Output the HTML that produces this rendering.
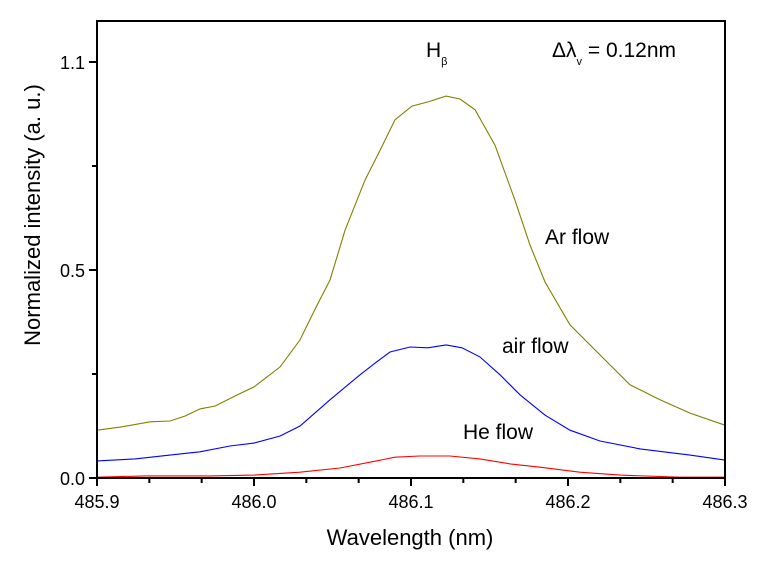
<!DOCTYPE html>
<html><head><meta charset="utf-8"><style>
body{margin:0;background:#fff;}
svg text{font-family:"Liberation Sans",Arial,sans-serif;fill:#000;}
</style></head><body>
<svg id="chart" width="761" height="563" viewBox="0 0 761 563" xmlns="http://www.w3.org/2000/svg">
<g id="plot"></g>
</svg>
<script>
const xTicks=[485.9,486.0,486.1,486.2,486.3];
const xTickLabels=["485.9","486.0","486.1","486.2","486.3"];
const yTicks=[0,0.5,1.0];
const yTickLabels=["0.0","0.5","1.1"];
const arX=[485.9,485.9159,485.9338,485.9465,485.9561,485.9656,485.9752,485.9879,486.0,486.0166,486.0293,486.0389,486.0484,486.058,486.0707,486.0803,486.0898,486.1006,486.1108,486.1223,486.1312,486.1408,486.1535,486.1662,486.1758,486.1854,486.2013,486.2204,486.2395,486.2586,486.2777,486.3];
const arY=[0.115,0.123,0.135,0.137,0.149,0.166,0.173,0.197,0.219,0.267,0.332,0.406,0.476,0.596,0.716,0.788,0.861,0.894,0.904,0.918,0.911,0.885,0.800,0.668,0.560,0.471,0.368,0.296,0.224,0.188,0.156,0.127];
const airX=[485.9,485.9242,485.9529,485.9656,485.9847,486.0,486.0166,486.0293,486.0484,486.0675,486.0771,486.0866,486.0994,486.1108,486.1223,486.1325,486.1439,486.1567,486.1694,486.1854,486.2013,486.2204,486.2459,486.2777,486.3];
const airY=[0.041,0.046,0.058,0.063,0.077,0.084,0.101,0.125,0.188,0.248,0.276,0.303,0.315,0.313,0.320,0.313,0.291,0.248,0.200,0.151,0.115,0.089,0.070,0.055,0.043];
const heX=[485.9,485.9306,485.972,486.0,486.0293,486.0548,486.0739,486.0898,486.1057,486.1248,486.1439,486.1631,486.1822,486.2076,486.2331,486.2713,486.3];
const heY=[0.002,0.005,0.005,0.007,0.014,0.024,0.038,0.050,0.053,0.053,0.046,0.034,0.026,0.014,0.007,0.002,0.002];

const L=97,R=725,T=21,B=478;
const xs=v=>L+(v-485.9)/0.4*(R-L);
const ys=v=>B-v*416;
const NS="http://www.w3.org/2000/svg";
const g=document.getElementById('plot');
function mk(tag,attrs,parent){const e=document.createElementNS(NS,tag);for(const k in attrs)e.setAttribute(k,attrs[k]);(parent||g).appendChild(e);return e;}

function series(xa,ya,color,name){
  const d=xa.map((x,i)=>(i?'L':'M')+xs(x).toFixed(1)+','+ys(ya[i]).toFixed(1)).join(' ');
  const p=mk('path',{d:d,fill:'none',stroke:color,'stroke-width':1.1});
  
  
}
series(arX,arY,'#808000','ar-flow-line');
series(airX,airY,'#0000ff','air-flow-line');
series(heX,heY,'#ff0000','he-flow-line');

const frame=mk('rect',{x:L,y:T,width:R-L,height:B-T,fill:'none',stroke:'#000','stroke-width':2});



for(let i=0;i<xTicks.length;i++){
  const x=xs(xTicks[i]);
  const t=mk('line',{x1:x,y1:B,x2:x,y2:B+8,stroke:'#000','stroke-width':2});
  
  
  const lb=mk('text',{x:x,y:B+30,'text-anchor':'middle','font-size':18});
  lb.textContent=xTickLabels[i];
  
  
  if(i<xTicks.length-1){
    for(let k=1;k<3;k++){
      const xm=xs(xTicks[i]+(xTicks[i+1]-xTicks[i])*k/3);
      const m=mk('line',{x1:xm,y1:B,x2:xm,y2:B+5,stroke:'#000','stroke-width':2});
      
      
    }
  }
}
for(let i=0;i<yTicks.length;i++){
  const y=ys(yTicks[i]);
  const t=mk('line',{x1:L-8,y1:y,x2:L,y2:y,stroke:'#000','stroke-width':2});
  
  
  const lb=mk('text',{x:L-12,y:y+7,'text-anchor':'end','font-size':18});
  lb.textContent=yTickLabels[i];
  
  
  if(i<yTicks.length-1){
    const ym=ys((yTicks[i]+yTicks[i+1])/2);
    const m=mk('line',{x1:L-5,y1:ym,x2:L,y2:ym,stroke:'#000','stroke-width':2});
    
    
  }
}
</script>
<svg style="position:absolute;left:0;top:0" width="761" height="563">
<text x="410" y="545" text-anchor="middle" font-size="22">Wavelength (nm)</text>
<text transform="translate(40,215) rotate(-90)" text-anchor="middle" font-size="22">Normalized intensity (a. u.)</text>
<text x="426" y="57" font-size="21">H<tspan font-size="11" dy="8">β</tspan></text>
<text x="552" y="57" font-size="21">Δλ<tspan font-size="11" dy="8">v</tspan><tspan dy="-8"> = 0.12nm</tspan></text>
<text x="545" y="244" font-size="21">Ar flow</text>
<text x="502" y="353" font-size="21">air flow</text>
<text x="463" y="439" font-size="21">He flow</text>
</svg>
</body></html>
